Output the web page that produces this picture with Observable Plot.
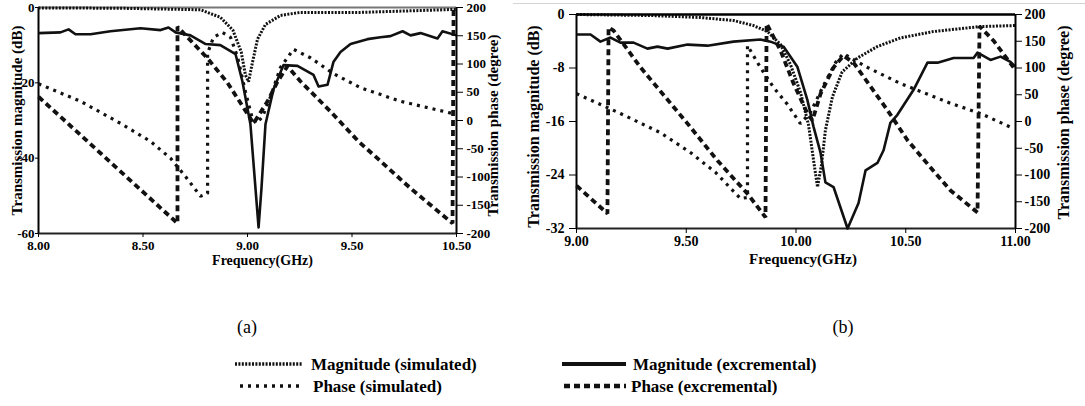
<!DOCTYPE html>
<html>
<head>
<meta charset="utf-8">
<script src="https://cdn.jsdelivr.net/npm/d3@7"></script>
<script src="https://cdn.jsdelivr.net/npm/@observablehq/plot@0.6"></script>
<style>
  body { margin: 0; background: #fff; }
  #root { position: relative; width: 1085px; height: 406px; overflow: hidden; background: #fff;
          font-family: "Liberation Serif", "Times New Roman", serif; }
  .layer { position: absolute; }
  .layer svg { overflow: visible; }
</style>
</head>
<body>
<div id="root"></div>
<script>
// ---------------- Panel (a) data ----------------
const xTicksA = [8, 8.5, 9, 9.5, 10];
const xTickLabelsA = ["8.00", "8.50", "9.00", "9.50", "10.50"];
const magTicksA = [0, -20, -40, -60];

const freqMagSimA = [8.0, 8.39, 8.68, 8.775, 8.87, 8.93, 8.97, 8.99, 9.005, 9.024, 9.048, 9.086, 9.158, 9.254, 9.54, 10.0];
const magSimA     = [-0.1, -0.2, -0.5, -0.6, -2.6, -6.0, -11.8, -17.9, -19.7, -14.5, -8.4, -4.5, -2.1, -1.3, -1.3, -0.5];

const freqMagExpA = [8.0, 8.105, 8.144, 8.177, 8.249, 8.344, 8.488, 8.584, 8.622, 8.656, 8.727, 8.80, 8.87, 8.943, 8.976, 9.014, 9.038, 9.053, 9.067, 9.086, 9.124, 9.172, 9.239, 9.316, 9.34, 9.383, 9.411, 9.445, 9.493, 9.574, 9.636, 9.684, 9.742, 9.78, 9.828, 9.909, 9.933, 10.0];
const magExpA     = [-6.8, -6.6, -5.8, -7.1, -7.1, -6.3, -5.5, -6.0, -5.3, -6.6, -7.4, -9.7, -10.0, -12.4, -19.7, -31.0, -47.9, -58.4, -47.9, -31.0, -21.8, -15.3, -15.5, -17.9, -21.0, -20.5, -14.5, -11.8, -9.7, -8.4, -7.9, -7.6, -6.3, -7.4, -6.8, -8.2, -6.3, -7.4];

const freqPhaseSimA = [8.0, 8.201, 8.392, 8.536, 8.632, 8.703, 8.775, 8.809, 8.809, 8.837, 8.88, 8.919, 8.952, 8.99, 9.024, 9.043, 9.072, 9.11, 9.158, 9.22, 9.301, 9.411, 9.541, 9.732, 9.986];
const phaseSimA     = [65, 34, -5, -37, -67, -99, -134, -129, 119, 147, 156, 147, 113, 51, 2, -5, 7, 42, 94, 126, 111, 83, 58, 34, 12];

const freqPhaseExpA = [8.0, 8.297, 8.665, 8.665, 8.809, 8.904, 9.029, 9.096, 9.144, 9.191, 9.254, 9.397, 9.531, 9.622, 9.78, 9.981, 9.986];
const phaseExpA     = [42, -58, -182, 166, 110, 67, -5, 34, 69, 96, 69, 16, -37, -67, -120, -182, 200];

// ---------------- Panel (b) data ----------------
const xTicksB = [9, 9.5, 10, 10.5, 11];
const xTickLabelsB = ["9.00", "9.50", "10.00", "10.50", "11.00"];
const magTicksB = [0, -8, -16, -24, -32];

const freqMagSimB = [9.0, 9.337, 9.565, 9.715, 9.806, 9.87, 9.93, 9.975, 10.02, 10.057, 10.08, 10.098, 10.116, 10.134, 10.166, 10.21, 10.28, 10.37, 10.476, 10.626, 10.84, 11.0];
const magSimB     = [0, -0.15, -0.45, -0.9, -1.65, -2.55, -4.5, -7.5, -11.6, -16.5, -21.8, -25.8, -22.5, -17.3, -12.3, -8.6, -6.5, -4.8, -3.5, -2.55, -1.8, -1.65];

const freqMagExpB = [9.0, 9.064, 9.109, 9.155, 9.2, 9.26, 9.323, 9.369, 9.415, 9.506, 9.597, 9.715, 9.838, 9.884, 9.943, 10.006, 10.052, 10.08, 10.112, 10.134, 10.171, 10.235, 10.285, 10.317, 10.371, 10.399, 10.43, 10.462, 10.535, 10.599, 10.645, 10.718, 10.809, 10.827, 10.886, 10.932, 10.977, 11.0];
const magExpB     = [-3.0, -3.0, -4.06, -3.45, -4.2, -4.2, -5.1, -4.8, -5.1, -4.5, -4.66, -4.06, -3.75, -4.06, -4.8, -7.8, -12.8, -16.8, -20.7, -25.1, -25.8, -32.0, -28.2, -23.3, -22.2, -20.3, -16.2, -15.0, -11.3, -7.2, -7.2, -6.5, -6.5, -5.7, -6.8, -6.3, -7.1, -7.8];

const freqPhaseSimB = [9.0, 9.2, 9.383, 9.519, 9.633, 9.747, 9.779, 9.779, 9.838, 9.897, 9.961, 10.02, 10.066, 10.125, 10.18, 10.216, 10.326, 10.476, 10.704, 10.84, 10.991];
const phaseSimB     = [52, 15, -21, -58, -95, -144, -142, 142, 101, 64, 32, -4, 17, 67, 110, 127, 101, 71, 34, 15, -13];

const freqPhaseExpB = [9.0, 9.141, 9.146, 9.169, 9.292, 9.506, 9.642, 9.779, 9.861, 9.866, 9.929, 9.989, 10.052, 10.075, 10.112, 10.171, 10.216, 10.262, 10.417, 10.508, 10.613, 10.704, 10.827, 10.836, 10.9, 10.991];
const phaseExpB     = [-120, -172, 176, 170, 101, -4, -73, -135, -179, 183, 133, 71, 15, 2, 52, 101, 123, 110, 21, -35, -86, -129, -170, 178, 151, 101];

const phaseTicks = [200, 150, 100, 50, 0, -50, -100, -150, -200];

// ---------------- Legend ----------------
const legendLabels = ["Magnitude (simulated)", "Magnitude (excremental)", "Phase (simulated)", "Phase (excremental)"];
const panelCaptions = ["(a)", "(b)"];

// ---------------- Drawing ----------------
const FONT = '"Liberation Serif", "Times New Roman", serif';
const INK = "#111";
const STYLES = {
  magSim:   {stroke: INK, strokeWidth: 3,   strokeDasharray: "2,1.4", strokeLinecap: "butt", strokeLinejoin: "miter"},
  magExp:   {stroke: INK, strokeWidth: 2.6, strokeLinecap: "butt"},
  phaseSim: {stroke: INK, strokeWidth: 3.2, strokeDasharray: "3,5", strokeLinecap: "butt", strokeLinejoin: "miter"},
  phaseExp: {stroke: INK, strokeWidth: 3.8, strokeDasharray: "6,4", strokeLinecap: "butt", strokeLinejoin: "miter"}
};
const zipXY = (xs, ys) => xs.map((x, i) => ({x, y: ys[i]}));
const root = d3.select("#root");
function place(node, left, top) {
  const div = root.append("div").attr("class", "layer")
    .style("left", left + "px").style("top", top + "px");
  div.node().appendChild(node);
}

function panel(c) {
  const common = {
    width: c.width, height: c.height,
    marginLeft: c.mL, marginRight: c.mR, marginTop: c.mT, marginBottom: c.mB,
    x: {domain: c.xDomain},
    style: {background: "transparent", fontFamily: FONT, fontWeight: "bold", fontSize: c.fs + "px", color: "#000", overflow: "visible"}
  };
  const titleOpts = {text: d => d, fontSize: c.titleFs, fontWeight: "bold", textAnchor: "middle", lineAnchor: "middle"};
  // magnitude layer (left axis)
  const magPlot = Plot.plot({
    ...common,
    y: {domain: c.magDomain},
    marks: [
      Plot.ruleY([c.magDomain[1]], {stroke: c.topColor, strokeWidth: 2}),
      Plot.ruleY([c.magDomain[0]], {stroke: "#222", strokeWidth: 2}),
      Plot.ruleX([c.xDomain[0]], {stroke: "#000", strokeWidth: 2}),
      Plot.line(zipXY(c.fMagSim, c.magSim), {x: "x", y: "y", ...STYLES.magSim}),
      Plot.line(zipXY(c.fMagExp, c.magExp), {x: "x", y: "y", ...STYLES.magExp}),
      Plot.axisX({ticks: c.xTicks, tickFormat: d => c.xTickLabels[c.xTicks.indexOf(d)], tickSize: c.xTickSize, tickPadding: c.xTickPad, label: null}),
      Plot.axisY({ticks: c.magTicks, tickFormat: d => String(d), tickSize: c.yTickSize, tickPadding: c.yTickPad, label: null}),
      Plot.text(["Transmission magnitude (dB)"], {...titleOpts, frameAnchor: "left", rotate: -90, dx: c.lTitleDx, dy: c.lTitleDy}),
      Plot.text(["Frequency(GHz)"], {...titleOpts, fontSize: c.xTitleFs, frameAnchor: "bottom", dx: c.xTitleDx, dy: c.xTitleDy})
    ]
  });
  // phase layer (right axis)
  const phasePlot = Plot.plot({
    ...common,
    x: {domain: c.xDomain, axis: null},
    y: {domain: [-200, 200]},
    marks: [
      c.rightFrameTop ? Plot.ruleY([200], {stroke: "#000", strokeWidth: 2}) : null,
      Plot.ruleX([c.xDomain[1]], {stroke: "#000", strokeWidth: 2}),
      Plot.line(zipXY(c.fPhaseSim, c.phaseSim), {x: "x", y: "y", ...STYLES.phaseSim}),
      Plot.line(zipXY(c.fPhaseExp, c.phaseExp), {x: "x", y: "y", ...STYLES.phaseExp}),
      Plot.axisY({anchor: "right", ticks: phaseTicks, tickFormat: d => String(d), tickSize: 6, tickPadding: c.rTickPad, label: null}),
      Plot.text(["Transmission phase (degree)"], {...titleOpts, frameAnchor: "right", rotate: -90, dx: c.rTitleDx, dy: c.rTitleDy})
    ]
  });
  place(magPlot, c.left, c.top);
  place(phasePlot, c.left, c.top);
}

panel({
  left: 0, top: 0, width: 515, height: 270, mL: 38, mR: 59, mT: 7, mB: 37,
  xDomain: [8, 10], xTicks: xTicksA, xTickLabels: xTickLabelsA,
  magDomain: [-60, 0], magTicks: magTicksA,
  fMagSim: freqMagSimA, magSim: magSimA, fMagExp: freqMagExpA, magExp: magExpA,
  fPhaseSim: freqPhaseSimA, phaseSim: phaseSimA, fPhaseExp: freqPhaseExpA, phaseExp: phaseExpA,
  fs: 13, titleFs: 15, xTitleFs: 14, topColor: "#777", rightFrameTop: false,
  xTickSize: 4, xTickPad: 3, yTickSize: 3, yTickPad: 1, rTickPad: 4,
  lTitleDx: -21, lTitleDy: 0, rTitleDx: 37, rTitleDy: 5, xTitleDx: 15, xTitleDy: 27
});

panel({
  left: 515, top: 0, width: 570, height: 270, mL: 61, mR: 70, mT: 14, mB: 42,
  xDomain: [9, 11], xTicks: xTicksB, xTickLabels: xTickLabelsB,
  magDomain: [-32, 0], magTicks: magTicksB,
  fMagSim: freqMagSimB, magSim: magSimB, fMagExp: freqMagExpB, magExp: magExpB,
  fPhaseSim: freqPhaseSimB, phaseSim: phaseSimB, fPhaseExp: freqPhaseExpB, phaseExp: phaseExpB,
  fs: 14, titleFs: 16, xTitleFs: 15, topColor: "#000", rightFrameTop: true,
  xTickSize: 5, xTickPad: 3, yTickSize: 7, yTickPad: 5, rTickPad: 3,
  lTitleDx: -43, lTitleDy: 5, rTitleDx: 48, rTitleDy: 1, xTitleDx: 7, xTitleDy: 31
});

// thin light rule across the top of panel (b)
root.append("div").style("position", "absolute").style("left", "513px").style("top", "3px")
  .style("width", "572px").style("height", "1px").style("background", "#d4d4d4");

// ---------------- Captions & legend ----------------
const leg = root.append("svg").attr("width", 1085).attr("height", 116)
  .style("position", "absolute").style("left", "0px").style("top", "290px")
  .attr("font-family", FONT);
leg.append("text").attr("x", 247).attr("y", 43).attr("text-anchor", "middle").attr("font-size", 18).text(panelCaptions[0]);
leg.append("text").attr("x", 843).attr("y", 43).attr("text-anchor", "middle").attr("font-size", 18).text(panelCaptions[1]);

const legendItems = [
  {label: legendLabels[0], style: STYLES.magSim,   x1: 235, x2: 302, tx: 311, y: 75},
  {label: legendLabels[1], style: STYLES.magExp,   x1: 562, x2: 626, tx: 633, y: 75},
  {label: legendLabels[2], style: STYLES.phaseSim, x1: 240, x2: 302, tx: 313, y: 97},
  {label: legendLabels[3], style: STYLES.phaseExp, x1: 564, x2: 626, tx: 631, y: 97}
];
for (const it of legendItems) {
  leg.append("line").attr("x1", it.x1).attr("x2", it.x2).attr("y1", it.y - 1).attr("y2", it.y - 1)
    .attr("stroke", it.style.stroke).attr("stroke-width", it.style === STYLES.magExp ? 4 : it.style.strokeWidth + 0.5)
    .attr("stroke-dasharray", it.style.strokeDasharray || null).attr("stroke-linecap", "butt");
  leg.append("text").attr("x", it.tx).attr("y", it.y + 5).attr("font-size", 17).attr("font-weight", "bold").text(it.label);
}
</script>
</body>
</html>
